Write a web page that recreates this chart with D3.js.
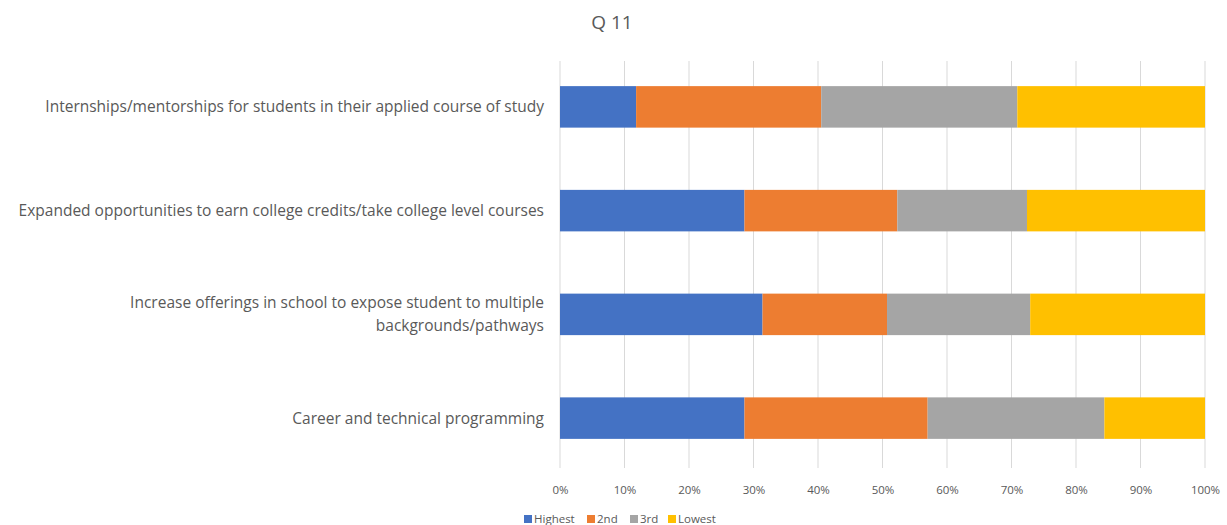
<!DOCTYPE html>
<html>
<head>
<meta charset="utf-8">
<script src="https://cdn.jsdelivr.net/npm/d3@7"></script>
<style>
  body { margin: 0; background: #fff; }
  svg { display: block; font-family: "Open Sans", sans-serif; }
</style>
</head>
<body>
<svg id="chart" width="1227" height="525"></svg>
<script>
// categories top to bottom
const categories = [
  "Internships/mentorships for students in their applied course of study",
  "Expanded opportunities to earn college credits/take college level courses",
  "Increase offerings in school to expose student to multiple backgrounds/pathways",
  "Career and technical programming"
];
const labelLines = [
  ["Internships/mentorships for students in their applied course of study"],
  ["Expanded opportunities to earn college credits/take college level courses"],
  ["Increase offerings in school to expose student to multiple", "backgrounds/pathways"],
  ["Career and technical programming"]
];
const seriesNames = ["Highest", "2nd", "3rd", "Lowest"];
const colors = ["#4472c4", "#ed7d31", "#a5a5a5", "#ffc000"];
// percent share per category, in series order
const highest = [11.8, 28.6, 31.4, 28.6];
const second  = [28.7, 23.7, 19.3, 28.4];
const third   = [30.4, 20.1, 22.2, 27.4];
const lowest  = [29.1, 27.6, 27.1, 15.6];
const xTicks = [0, 10, 20, 30, 40, 50, 60, 70, 80, 90, 100];

const svg = d3.select("#chart");
const margin = { left: 560, right: 22, top: 55, bottom: 55 };
const W = 1227, H = 525;

const rows = categories.map((c, i) => ({
  cat: c, Highest: highest[i], "2nd": second[i], "3rd": third[i], Lowest: lowest[i]
}));
const stacked = d3.stack().keys(seriesNames)
  .offset(d3.stackOffsetExpand)(rows);

const x = d3.scaleLinear().domain([0, 1]).range([margin.left, W - margin.right]);
const y = d3.scaleBand().domain(categories)
  .range([margin.top, H - margin.bottom]).paddingInner(0.6).paddingOuter(0.3);

// title
svg.append("text")
  .attr("x", 612).attr("y", 29)
  .attr("text-anchor", "middle")
  .attr("fill", "#595959")
  .style("font-size", "19px")
  .text("Q 11");

// gridlines
svg.append("g")
  .selectAll("line")
  .data(xTicks)
  .join("line")
    .attr("x1", d => x(d / 100)).attr("x2", d => x(d / 100))
    .attr("y1", margin.top + 6).attr("y2", H - margin.bottom - 2)
    .attr("stroke", "#d9d9d9").attr("stroke-width", 1);

// bars
svg.append("g")
  .selectAll("g")
  .data(stacked)
  .join("g")
    .attr("fill", (d, i) => colors[i])
  .selectAll("rect")
  .data(d => d)
  .join("rect")
    .attr("x", d => x(d[0]))
    .attr("width", d => x(d[1]) - x(d[0]))
    .attr("y", d => y(d.data.cat))
    .attr("height", y.bandwidth());

// x axis labels
const xAxis = d3.axisBottom(x)
  .tickValues(xTicks.map(d => d / 100))
  .tickFormat(d3.format(".0%"))
  .tickSize(0).tickPadding(16);
const gx = svg.append("g")
  .attr("transform", `translate(0,${H - margin.bottom})`)
  .call(xAxis);
gx.select(".domain").remove();
gx.selectAll("text")
  .attr("fill", "#595959")
  .style("font-size", "11.5px")
  .style("font-family", "Open Sans, sans-serif");

// category labels
const lab = svg.append("g")
  .selectAll("text")
  .data(categories)
  .join("text")
    .attr("text-anchor", "end")
    .attr("fill", "#595959")
    .style("font-size", "15.5px")
    .attr("x", 544)
    .attr("y", d => y(d) + y.bandwidth() / 2);
lab.each(function(d, i) {
  const lines = labelLines[i];
  const t = d3.select(this);
  lines.forEach((ln, j) => {
    t.append("tspan")
      .attr("x", 544)
      .attr("dy", j === 0 ? `${0.35 - (lines.length - 1) * 0.74}em` : "1.48em")
      .text(ln);
  });
});

// legend
const legend = svg.append("g").attr("transform", `translate(524,523)`);
const offsets = [0, 63, 106, 144];
seriesNames.forEach((s, i) => {
  const g = legend.append("g").attr("transform", `translate(${offsets[i]},0)`);
  g.append("rect").attr("x", 0).attr("y", -8).attr("width", 8).attr("height", 8)
    .attr("fill", colors[i]);
  g.append("text").attr("x", 10).attr("y", 0)
    .attr("fill", "#595959")
    .style("font-size", "11.5px")
    .text(s);
});
</script>
</body>
</html>
